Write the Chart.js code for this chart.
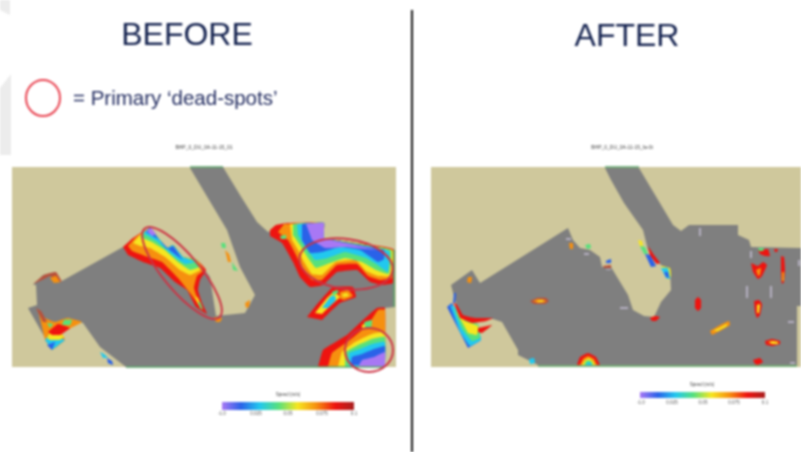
<!DOCTYPE html>
<html>
<head>
<meta charset="utf-8">
<title>Before / After</title>
<style>
html, body { margin: 0; padding: 0; background: #fff; overflow: hidden; }
canvas { display: block; filter: blur(0.8px); }
</style>
<script src="https://cdn.jsdelivr.net/npm/chart.js@4/dist/chart.umd.min.js"></script>
</head>
<body>
<canvas id="myChart" width="801" height="452"></canvas>
<script>
// jet-like contour colours
var P = '#a878f4', B = '#2a62e8', C = '#22c8ee', G = '#58e07c', Y = '#f6e620', O = '#f6900f', R = '#ee1410', D = '#b8503a', L = '#b6b0c2';
var SAND = '#cfc89c', GRID = '#7f7f7f', EDGE = '#58a468', MARK = '#cc3344';

var barStops = [P, B, C, G, Y, O, R, '#a82020'];
var barTicks = ['-1.0', '0.025', '0.05', '0.075', '0.1'];

// everything below is in picture units
var ghostTop = [[0,0],[10,0],[10,15],[0,10]];
var ghostMid = [[11,74],[0,88],[0,155],[11,155]];

var mapBefore = [[12,167],[396,167],[396,367],[12,367]];
var mapAfter = [[431,167],[801,167],[801,367],[431,367]];

var gridBefore = [[190,168],[223,167],[240,195],[257,222],[268,232],[292,223],[324,223],[324,238],[393,249],[395,250],[395,307],[385,308],[385,367],[126,367],[100,347],[83,323],[68,318],[52,350],[28,308],[37,305],[36,285],[33,285],[43,275],[55,272],[60,282],[123,247],[150,228],[160,240],[167,248],[173,245],[183,257],[197,260],[210,277],[216,316],[245,313],[255,295],[240,267],[227,230]];
var gridAfter = [[605,168],[639,168],[673,225],[681,231],[689,225],[738,225],[738,235],[749,240],[751,247],[801,248],[801,306],[797,306],[797,365],[538,365],[518,355],[518,350],[502,322],[493,319],[460,318],[451,285],[472,270],[480,283],[568,228],[573,240],[580,248],[590,250],[600,257],[602,267],[611,267],[628,295],[633,310],[644,316],[654,317],[661,302],[671,290],[670,270],[661,265],[648,250],[643,230],[624,203],[611,180]];

var deadA = [
  [R, [[123,247],[133,238],[150,228],[160,240],[167,248],[173,245],[183,257],[197,260],[206,270],[200,280],[198,290],[202,303],[207,314],[196,307],[187,290],[175,282],[160,268],[143,262],[128,255]]],
  [O, [[128,246],[136,237],[150,228],[160,240],[167,248],[173,245],[183,257],[197,260],[204,270],[197,276],[194,288],[200,306],[190,293],[178,278],[162,262],[145,256],[132,251]]],
  [Y, [[133,243],[140,235],[150,228],[160,240],[167,248],[173,245],[183,257],[197,260],[202,269],[190,275],[180,270],[165,257],[150,248],[140,246]]],
  [G, [[140,237],[150,228],[160,240],[167,248],[173,245],[183,257],[197,260],[199,267],[190,270],[178,262],[165,250],[152,242]]],
  [C, [[143,233],[150,228],[160,240],[167,248],[173,245],[183,257],[195,262],[185,264],[172,255],[158,242]]],
  [B, [[146,232],[150,228],[160,241],[167,249],[173,246],[180,256],[183,260],[172,252],[158,239]]],
  [P, [[147,231],[151,228],[156,234],[152,236]]],
  [Y, [[195,296],[198,298],[202,308],[198,304]]],
  [G, [[198,302],[200,302],[203,310],[200,308]]]
];
var deadB = [
  [R, [[270,230],[276,225],[288,223],[324,223],[324,238],[393,249],[393,283],[383,285],[370,282],[357,270],[337,272],[323,285],[310,287],[300,277],[293,262],[282,243],[270,236]]],
  [O, [[284,224],[324,223],[324,238],[393,250],[392,278],[380,280],[368,276],[357,264],[337,265],[322,280],[312,280],[303,270],[296,255],[288,240],[278,232]]],
  [Y, [[290,224],[324,223],[324,238],[392,250],[391,276],[378,276],[366,271],[356,260],[336,262],[322,275],[312,274],[304,262],[298,250],[292,240]]],
  [G, [[293,224],[324,223],[324,238],[391,250],[389,274],[376,270],[362,262],[345,258],[330,263],[316,268],[308,258],[300,245],[293,235]]],
  [C, [[297,224],[324,223],[324,238],[389,251],[388,272],[376,264],[366,258],[345,252],[328,258],[315,260],[304,245],[298,235]]],
  [B, [[302,224],[324,223],[324,238],[384,250],[384,259],[378,262],[360,250],[340,247],[322,252],[310,253],[302,240]]],
  [P, [[306,224],[324,223],[324,238],[345,243],[378,250],[365,249],[345,247],[325,248],[312,240]]],
  [G, [[280,236],[286,235],[286,239],[281,239]]]
];
var deadC = [
  [R, [[307,317],[318,303],[327,293],[333,287],[353,287],[356,297],[340,303],[330,312],[322,320]]],
  [Y, [[315,313],[327,298],[334,292],[340,297],[330,306],[322,314]]],
  [C, [[322,308],[331,296],[335,296],[336,300],[328,308]]],
  [O, [[340,292],[348,290],[353,296],[344,300],[339,298]]],
  [Y, [[342,294],[347,293],[349,296],[343,297]]],
  [G, [[332,292],[337,290],[339,292],[333,296]]]
];
var deadD = [
  [R, [[318,367],[323,350],[347,335],[363,320],[377,308],[385,308],[385,367]]],
  [O, [[328,367],[332,353],[350,340],[368,325],[378,310],[385,310],[385,367]]],
  [Y, [[338,367],[342,352],[355,342],[372,334],[385,332],[385,367]]],
  [G, [[345,367],[346,352],[358,345],[372,339],[385,337],[385,367]]],
  [C, [[349,367],[349,353],[360,349],[372,344],[385,342],[385,367]]],
  [B, [[351,365],[352,357],[362,354],[374,349],[385,346],[385,365]]],
  [P, [[358,367],[362,360],[374,357],[385,352],[385,367]]],
  [G, [[364,322],[372,320],[371,328],[365,328]]],
  [Y, [[362,325],[365,324],[365,329],[362,329]]]
];
var deadE = [
  [O, [[38,310],[45,318],[55,322],[67,318],[82,322],[62,333],[65,340],[52,350],[45,340]]],
  [C, [[45,340],[50,334],[60,338],[65,340],[52,350]]],
  [B, [[47,345],[55,342],[52,350]]],
  [Y, [[47,338],[52,330],[64,336],[60,340],[50,340]]],
  [R, [[48,332],[58,324],[70,328],[60,335],[52,335]]],
  [G, [[64,320],[72,320],[70,325],[62,325]]],
  [G, [[47,323],[53,324],[50,328]]],
  [D, [[36,308],[41,311],[47,322],[43,322]]]
];
var wallsBefore = [
  [D, [[33,284],[44,275],[56,272],[62,282],[57,280],[50,276],[44,279]]],
  [O, [[50,278],[56,276],[60,282],[54,283]]],
  [G, [[221,243],[225,243],[226,248],[222,248]]],
  [O, [[225,250],[229,254],[231,262],[228,262]]],
  [G, [[232,262],[236,268],[238,271],[233,270]]],
  [O, [[245,303],[250,300],[249,307],[246,308]]],
  [O, [[214,317],[222,318],[220,322],[216,322]]],
  [C, [[100,352],[104,354],[108,358],[103,358]]],
  [B, [[107,358],[112,361],[113,365],[108,363]]]
];

var patchAfterLeft = [
  [B, [[447,307],[452,303],[458,316],[466,326],[478,330],[481,340],[468,348]]],
  [C, [[450,305],[455,307],[463,322],[478,328],[481,340],[470,346],[460,332]]],
  [G, [[453,306],[462,319],[478,324],[480,338],[472,341],[462,329]]],
  [Y, [[456,311],[465,321],[478,326],[477,335],[468,333]]],
  [R, [[453,301],[457,305],[463,315],[475,318],[493,318],[486,321],[472,323],[460,318]]],
  [R, [[478,328],[492,325],[482,333],[478,332]]],
  [B, [[454,293],[456,293],[455,303],[453,303]]]
];
var domeAfter = [
  [R, [[577,365],[580,357],[588,353],[596,357],[600,365]]],
  [O, [[580,365],[583,359],[588,356],[594,359],[597,365]]],
  [Y, [[582,365],[585,360],[589,358],[593,361],[595,365]]],
  [G, [[584,365],[586,361],[589,360],[592,362],[593,365]]],
  [C, [[586,365],[588,362],[591,363],[592,365]]]
];
var spotsAfter = [
  [D, [[530,301],[537,298],[546,298],[549,301],[545,304],[534,304]]],
  [O, [[533,301],[538,299],[545,300],[546,302],[538,303]]],
  [Y, [[537,301],[543,300],[543,302],[538,302]]],
  [O, [[710,331],[722,324],[729,321],[730,325],[720,331],[712,335]]],
  [Y, [[713,331],[723,326],[727,324],[727,326],[718,331]]],
  [R, [[765,341],[772,339],[780,341],[780,344],[772,346],[766,345]]],
  [Y, [[768,342],[773,341],[778,342],[778,344],[772,344]]],
  [R, [[695,300],[698,297],[701,300],[701,308],[698,311],[695,308]]],
  [R, [[754,301],[759,300],[762,304],[760,315],[757,318],[755,312]]],
  [Y, [[757,305],[760,304],[759,313],[757,313]]],
  [R, [[751,263],[758,266],[763,262],[767,265],[762,276],[758,279],[753,272]]],
  [O, [[756,270],[761,268],[760,275],[758,276]]],
  [R, [[781,256],[784,257],[785,270],[784,282],[782,284],[781,272]]],
  [O, [[782,272],[784,272],[784,281],[782,281]]],
  [R, [[758,250],[768,249],[770,256],[765,256],[760,254]]],
  [G, [[758,248],[764,248],[763,251],[759,251]]],
  [R, [[774,249],[778,249],[777,252],[775,252]]],
  [R, [[753,360],[760,358],[763,362],[758,365],[755,364]]],
  [R, [[650,318],[655,316],[660,317],[656,321],[652,321]]],
  [O, [[468,277],[472,277],[471,283],[467,282]]],
  [O, [[569,243],[573,243],[573,249],[570,249]]],
  [G, [[585,245],[590,244],[591,248],[587,249]]],
  [B, [[606,261],[611,259],[611,263],[606,263]]],
  [D, [[603,266],[611,265],[611,268],[604,268]]],
  [C, [[529,359],[534,358],[535,363],[530,364]]]
];
var wallsAfter = [
  [R, [[648,246],[654,255],[660,263],[657,264],[650,256]]],
  [Y, [[638,240],[642,241],[643,247],[640,246]]],
  [G, [[640,246],[645,247],[648,254],[644,254]]],
  [B, [[645,254],[650,255],[656,266],[651,267]]],
  [Y, [[661,266],[670,268],[671,276],[668,280]]],
  [C, [[661,268],[668,268],[670,279],[666,278]]],
  [B, [[664,272],[668,272],[669,278],[666,277]]]
];
var stubsAfter = [
  [[566,238],[571,238],[571,240],[566,240]],
  [[584,253],[589,253],[589,255],[584,255]],
  [[606,269],[611,269],[611,270],[606,270]],
  [[699,228],[701,228],[701,236],[699,236]],
  [[750,251],[752,251],[752,258],[750,258]],
  [[746,286],[748,286],[748,298],[746,298]],
  [[770,286],[772,286],[772,298],[770,298]],
  [[620,307],[628,307],[628,309],[620,309]],
  [[788,321],[794,321],[794,323],[788,323]],
  [[790,362],[795,362],[795,364],[790,364]],
  [[798,260],[800,260],[800,266],[798,266]]
];
var edgesBefore = [[[126,367],[385,367]], [[190,167],[223,167]], [[394,250],[394,307]]];
var edgesAfter = [[[538,366],[797,366]], [[605,167],[639,167]]];

var divider = [[412,10],[412,452]];
var barBefore = [[222,402],[354,402],[354,410],[222,410]];
var barAfter = [[640,392],[765,392],[765,398],[640,398]];

// [cx, cy, rx, ry, degrees]
var rings = [[43,98,17,18,0], [182,273,58,18,50], [346,264,47,25,8], [369,350,24,22,0]];

var headings = [['BEFORE',187,45], ['AFTER',627,46]];
var runNames = [['BHP_0_DU_0A-11-15_01',204,149], ['BHP_0_DU_0A-11-15_fa-0t',622,149]];
var barTitles = [['Speed (m/s)',288,396], ['Speed (m/s)',702,386]];
var tickBefore = [222,256,288,322,354];
var tickAfter = [641,672,703,734,765];

var datasets = [];

var shape = function(points, color, tension) {
  datasets.push({
    type: 'scatter',
    showLine: true,
    data: points.map(function(p) { return {x: p[0], y: p[1]}; }),
    backgroundColor: color,
    borderColor: 'transparent',
    borderWidth: 0,
    pointRadius: 0,
    fill: 'shape',
    tension: tension || 0
  });
};

var stroke = function(points, color, width) {
  datasets.push({
    type: 'scatter',
    showLine: true,
    data: points.map(function(p) { return {x: p[0], y: p[1]}; }),
    borderColor: color,
    borderWidth: width,
    pointRadius: 0,
    fill: false
  });
};

var bands = function(list) {
  list.forEach(function(b) { shape(b[1], b[0], 0.1); });
};

// gradient needs the scale, which is not laid out on the first resolve
var barFill = function(points) {
  return function(ctx) {
    var x = ctx.chart.scales.x;
    var x0 = x ? x.getPixelForValue(points[0][0]) : NaN;
    var x1 = x ? x.getPixelForValue(points[1][0]) : NaN;
    if (!isFinite(x0) || !isFinite(x1)) {
      return barStops[0];
    }
    var g = ctx.chart.ctx.createLinearGradient(x0, 0, x1, 0);
    barStops.forEach(function(c, i) { g.addColorStop(i / (barStops.length - 1), c); });
    return g;
  };
};

shape(ghostTop, '#ececec');
shape(ghostMid, '#ececec');
shape(mapBefore, SAND);
shape(mapAfter, SAND);
shape(gridBefore, GRID);
shape(gridAfter, GRID);
[deadA, deadB, deadC, deadD, deadE, wallsBefore, patchAfterLeft, domeAfter, spotsAfter, wallsAfter].forEach(bands);
stubsAfter.forEach(function(s) { shape(s, L); });
edgesBefore.concat(edgesAfter).forEach(function(e) { stroke(e, EDGE, 1.5); });
stroke(divider, '#111', 2);
shape(barBefore, barFill(barBefore));
shape(barAfter, barFill(barAfter));

// first dataset is painted last otherwise
datasets.reverse();

var labels = {
  id: 'labels',
  afterDatasetsDraw: function(chart) {
    var c = chart.ctx, x = chart.scales.x, y = chart.scales.y;
    var put = function(t, font, color, align) {
      c.font = font;
      c.fillStyle = color;
      c.textAlign = align || 'center';
      c.textBaseline = 'alphabetic';
      c.fillText(t[0], x.getPixelForValue(t[1]), y.getPixelForValue(t[2]));
    };
    c.save();
    rings.forEach(function(r, i) {
      c.beginPath();
      c.ellipse(x.getPixelForValue(r[0]), y.getPixelForValue(r[1]), r[2], r[3], r[4] * Math.PI / 180, 0, Math.PI * 2);
      c.strokeStyle = i === 0 ? '#e8404e' : MARK;
      c.lineWidth = 2;
      c.stroke();
    });
    headings.forEach(function(t) { put(t, '32px "Liberation Sans"', '#14224f'); });
    put(['= Primary \u2018dead-spots\u2019', 73, 105], '20.5px "Liberation Sans"', '#222c60', 'left');
    runNames.forEach(function(t) { put(t, '5px "Liberation Sans"', '#444'); });
    barTitles.forEach(function(t) { put(t, '4.5px "Liberation Sans"', '#444'); });
    barTicks.forEach(function(t, i) {
      put([t, tickBefore[i], 415], '4.5px "Liberation Sans"', '#555');
      put([t, tickAfter[i], 404], '4.5px "Liberation Sans"', '#555');
    });
    c.restore();
  }
};

new Chart(document.getElementById('myChart').getContext('2d'), {
  type: 'scatter',
  data: {datasets: datasets},
  plugins: [labels],
  options: {
    responsive: false,
    animation: false,
    layout: {padding: 0},
    plugins: {legend: {display: false}, tooltip: {enabled: false}, title: {display: false}},
    scales: {
      x: {type: 'linear', min: 0, max: 801, display: false},
      y: {type: 'linear', min: 0, max: 452, reverse: true, display: false}
    }
  }
});
</script>
</body>
</html>
